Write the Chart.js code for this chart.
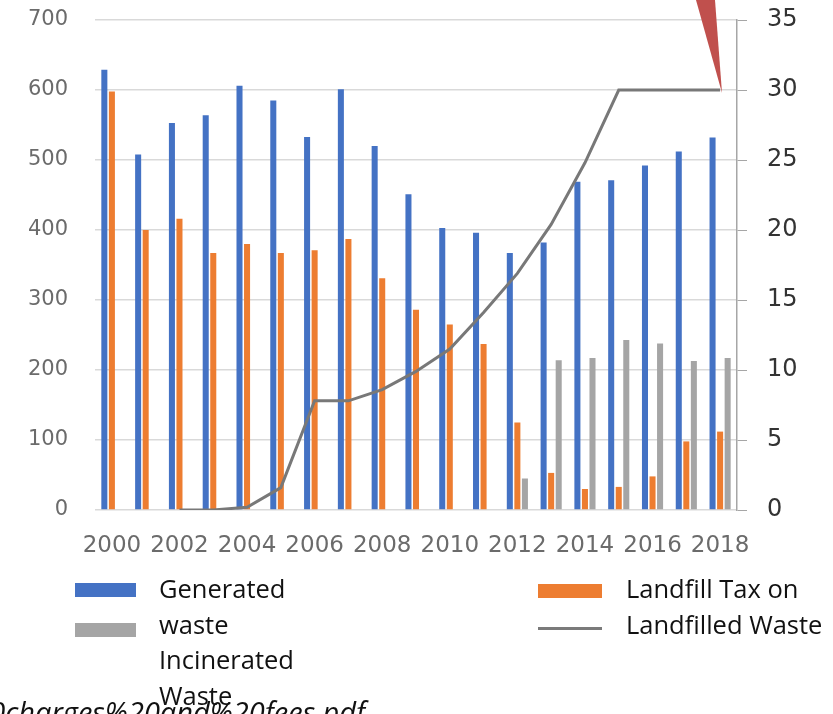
<!DOCTYPE html>
<html>
<head>
<meta charset="utf-8">
<script src="https://cdn.jsdelivr.net/npm/chart.js@4/dist/chart.umd.min.js"></script>
<style>
  html, body { margin: 0; padding: 0; background: #fff; overflow: hidden; }
  #wrap { position: relative; width: 833px; height: 714px; overflow: hidden; }
  #wrap canvas { position: absolute; left: 0; top: 0; }
  .lg { position: absolute; font-family: "Open Sans", sans-serif; font-size: 25.5px; color: #111; white-space: nowrap; line-height: 35.5px; }
  .sw { position: absolute; }
  #src { position: absolute; right: 468px; top: 697px; font-family: "Open Sans", sans-serif; font-style: italic; font-size: 29px; line-height: 29px; color: #111; white-space: nowrap; }
  #flag { position: absolute; left: 0; top: 0; width: 833px; height: 714px; background: #c0504d;
          clip-path: polygon(696px 0, 715px 0, 722px 93px); }
</style>
</head>
<body>
<div id="wrap">
  <canvas id="wasteChart" width="833" height="714"></canvas>
  <div id="flag"></div>
  <div class="sw" style="left:75px;top:583px;width:61px;height:14px;background:#4472c4"></div>
  <div class="sw" style="left:75px;top:623px;width:61px;height:14px;background:#a5a5a5"></div>
  <div class="sw" style="left:538px;top:584px;width:64px;height:14px;background:#ed7d31"></div>
  <div class="sw" style="left:538px;top:627px;width:64px;height:3px;background:#7a7a7a"></div>
  <div id="src">%20charges%20and%20fees.pdf</div>
  <div class="lg" style="left:159px;top:571px">Generated<br>waste<br>Incinerated<br>Waste</div>
  <div class="lg" style="left:626px;top:571px">Landfill Tax on<br>Landfilled Waste</div>
</div>
<script>
const years = ['2000', '2001', '2002', '2003', '2004', '2005', '2006', '2007', '2008', '2009',
               '2010', '2011', '2012', '2013', '2014', '2015', '2016', '2017', '2018'];

// thousand tonnes
const generated   = [629, 508, 553, 564, 606, 585, 533, 601, 520, 451, 403, 396, 367, 382, 469, 471, 492, 512, 532];
const landfilled  = [598, 400, 416, 367, 380, 367, 371, 387, 331, 286, 265, 237, 125, 53, 30, 33, 48, 98, 112];
const incinerated = [0, 0, 0, 0, 0, 0, 0, 0, 0, 0, 0, 0, 45, 214, 217, 243, 238, 213, 217];

// tax per tonne, right axis
const landfillTax = [null, null, 0, 0, 0.2, 1.6, 7.8, 7.8, 8.6, 9.9, 11.5, 14.1, 16.9, 20.4, 24.8, 30, 30, 30, 30];

const canvas = document.getElementById('wasteChart');

const barCommon = { categoryPercentage: 0.67, barPercentage: 0.8, yAxisID: 'y', order: 1 };

// fixed axis sizes so the plot area lands where we want it
function fixAxis(w) {
    return (s) => { s.width = w; s.paddingTop = 0; s.paddingBottom = 0; };
}

const chart = new Chart(canvas.getContext('2d'), {
    type: 'bar',
    data: {
        labels: years,
        datasets: [
            { type: 'line', label: 'Landfill Tax on Landfilled Waste', data: landfillTax, yAxisID: 'y1',
              borderColor: '#787878', borderWidth: 3, pointRadius: 0, tension: 0, spanGaps: false, order: 0 },
            Object.assign({ label: 'Generated waste', data: generated, backgroundColor: '#4472c4' }, barCommon),
            Object.assign({ label: 'Landfilled Waste', data: landfilled, backgroundColor: '#ed7d31' }, barCommon),
            Object.assign({ label: 'Incinerated Waste', data: incinerated, backgroundColor: '#a5a5a5' }, barCommon)
        ]
    },
    options: {
        responsive: false,
        maintainAspectRatio: false,
        animation: false,
        layout: { padding: { top: 20, bottom: 154, left: 0, right: 0 } },
        plugins: { legend: { display: false }, tooltip: { enabled: false } },
        scales: {
            x: {
                grid: { display: false, drawTicks: false },
                border: { display: false },
                afterFit: (s) => { s.height = 50; s.paddingLeft = 0; s.paddingRight = 0; },
                ticks: {
                    autoSkip: false,
                    maxRotation: 0,
                    padding: 22,
                    color: '#6b6b6b',
                    font: { family: 'DejaVu Sans', size: 23 },
                    callback: function (val, i) { return i % 2 === 0 ? this.getLabelForValue(val) : ''; }
                }
            },
            y: {
                position: 'left',
                min: 0, max: 700,
                afterFit: fixAxis(95),
                grid: { color: '#d9d9d9', lineWidth: 1.5, drawTicks: false },
                border: { display: false },
                ticks: { stepSize: 100, padding: 27, color: '#6b6b6b', font: { family: 'DejaVu Sans', size: 21 } }
            },
            y1: {
                position: 'right',
                min: 0, max: 35,
                afterFit: fixAxis(96),
                grid: { drawOnChartArea: false, drawTicks: true, tickLength: 10, color: '#a6a6a6' },
                border: { display: true, color: '#a6a6a6', width: 1.5 },
                ticks: { stepSize: 5, padding: 20, color: '#333', font: { family: 'DejaVu Sans', size: 24 } }
            }
        }
    }
});
</script>
</body>
</html>
